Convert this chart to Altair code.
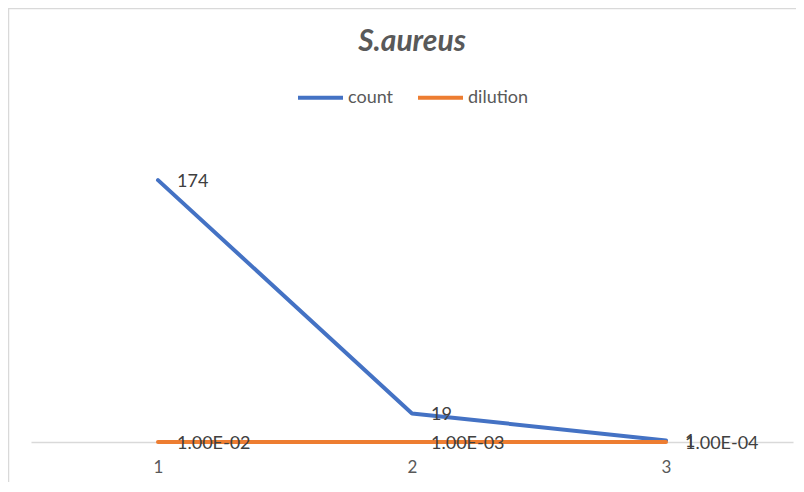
import altair as alt
import pandas as pd

categories = ["1", "2", "3"]
count_values = [174, 19, 1]
dilution_values = [0.01, 0.001, 0.0001]
series_names = ["count", "dilution"]

count_labels = [str(v) for v in count_values]
dilution_labels = [f"{v:.2E}" for v in dilution_values]

rows = []
for c, v, l in zip(categories, count_values, count_labels):
    rows.append({"x": c, "value": v, "series": "count", "label": l})
for c, v, l in zip(categories, dilution_values, dilution_labels):
    rows.append({"x": c, "value": v, "series": "dilution", "label": l})
df = pd.DataFrame(rows)

FONT = "Lato"
W, H = 762, 301

x_enc = alt.X("x:O", scale=alt.Scale(type="point", padding=0.5),
              axis=alt.Axis(title=None, labelAngle=0, ticks=False, grid=False,
                            domainColor="#d9d9d9", domainWidth=1.3,
                            labelColor="#595959", labelFontSize=17, labelFont=FONT,
                            labelPadding=17))
y_enc = alt.Y("value:Q", scale=alt.Scale(domain=[0, 200], nice=False), axis=None)

border = alt.Chart(pd.DataFrame({"a": [0]})).mark_rect(
    fillOpacity=0, stroke="#d9d9d9", strokeWidth=1.5
).encode(x=alt.value(-22.5), x2=alt.value(820), y=alt.value(-132.5), y2=alt.value(380))

lines = alt.Chart(df).mark_line(strokeWidth=4, strokeCap="round", strokeJoin="round").encode(
    x=x_enc, y=y_enc,
    color=alt.Color("series:N",
                    scale=alt.Scale(domain=series_names, range=["#4472C4", "#ED7D31"]),
                    legend=alt.Legend(title=None, orient="none", legendX=265, legendY=-68,
                                      direction="horizontal", symbolType="stroke",
                                      symbolSize=2025, symbolStrokeWidth=4,
                                      labelFont=FONT, labelFontSize=18, labelColor="#595959",
                                      labelOffset=3, columnPadding=16)),
    detail="series:N",
)

labels = alt.Chart(df).mark_text(align="left", baseline="middle", dx=19, dy=2,
                                 font=FONT, fontSize=18, color="#404040").encode(
    x=x_enc, y=y_enc, text="label:N"
)

chart = alt.layer(border, lines, labels).properties(
    width=W, height=H,
    padding={"left": 23, "top": 133, "right": 3, "bottom": 40},
    autosize=alt.AutoSizeParams(type="none"),
    title=alt.TitleParams("S.aureus", font=FONT, fontSize=30, fontStyle="italic",
                          fontWeight="bold", color="#595959", anchor="middle", offset=-49),
).configure_view(stroke=None)

chart.save("out.html", embed_options={"renderer": "svg", "actions": False})
